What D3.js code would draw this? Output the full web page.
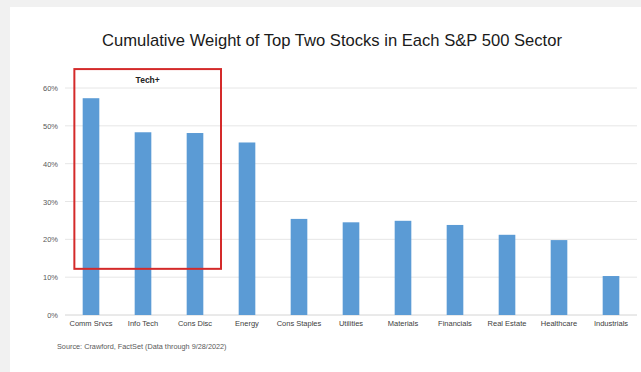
<!DOCTYPE html>
<html>
<head>
<meta charset="utf-8">
<script src="https://cdn.jsdelivr.net/npm/d3@7"></script>
<style>
  body { margin: 0; background: #f1f1f1; }
  svg { display: block; font-family: "Liberation Sans", Arial, sans-serif; }
</style>
</head>
<body>
<svg class="chart" width="641" height="372"></svg>
<script>
// data
const sectors = ["Comm Srvcs", "Info Tech", "Cons Disc", "Energy", "Cons Staples", "Utilities",
  "Materials", "Financials", "Real Estate", "Healthcare", "Industrials"];
const weights = [57.3, 48.3, 48.1, 45.6, 25.4, 24.5, 24.9, 23.8, 21.2, 19.8, 10.3];
const yTicks = [0, 10, 20, 30, 40, 50, 60];
const techGroup = ["Comm Srvcs", "Info Tech", "Cons Disc"];

const svg = d3.select(".chart");

// white panel
svg.append("rect")
  .attr("x", 10).attr("y", 7)
  .attr("width", 631).attr("height", 365)
  .attr("fill", "#fff");

svg.append("text")
  .attr("x", 332).attr("y", 46)
  .attr("text-anchor", "middle")
  .attr("font-size", 16.6)
  .attr("fill", "#1a1a1a")
  .text("Cumulative Weight of Top Two Stocks in Each S&P 500 Sector");

const x = d3.scaleBand().domain(sectors).range([65, 637]).paddingInner(0.68).paddingOuter(0.34);
const y = d3.scaleLinear().domain([0, 60]).range([315, 88]);

// grid
svg.append("g")
  .selectAll("line")
  .data(yTicks)
  .join("line")
  .attr("x1", 65).attr("x2", 637)
  .attr("y1", (d) => y(d)).attr("y2", (d) => y(d))
  .attr("stroke", (d) => (d === 0 ? "#d4d4d4" : "#e6e6e6"))
  .attr("stroke-width", 1);

svg.append("g")
  .selectAll("text")
  .data(yTicks)
  .join("text")
  .attr("x", 58).attr("y", (d) => y(d) + 3)
  .attr("text-anchor", "end")
  .attr("font-size", 7.5)
  .attr("fill", "#595959")
  .text((d) => d + "%");

// bars
svg.append("g")
  .selectAll("rect")
  .data(sectors)
  .join("rect")
  .attr("x", (d) => x(d))
  .attr("width", x.bandwidth())
  .attr("y", (d, i) => y(weights[i]))
  .attr("height", (d, i) => y(0) - y(weights[i]))
  .attr("fill", "#5b9bd5");

svg.append("g")
  .selectAll("text")
  .data(sectors)
  .join("text")
  .attr("x", (d) => x(d) + x.bandwidth() / 2)
  .attr("y", 326)
  .attr("text-anchor", "middle")
  .attr("font-size", 7.5)
  .attr("fill", "#404040")
  .text((d) => d);

// Tech+ box
const step = x.step();
const boxLeft = x(techGroup[0]) - step * 0.16;
const boxRight = x(techGroup[2]) + x.bandwidth() + step * 0.34;
svg.append("rect")
  .attr("x", boxLeft).attr("y", y(65))
  .attr("width", boxRight - boxLeft)
  .attr("height", y(12.2) - y(65))
  .attr("fill", "none")
  .attr("stroke", "#d42a2a")
  .attr("stroke-width", 2);

svg.append("text")
  .attr("x", (boxLeft + boxRight) / 2).attr("y", 83)
  .attr("text-anchor", "middle")
  .attr("font-size", 8.5)
  .attr("font-weight", "bold")
  .attr("fill", "#222")
  .text("Tech+");

svg.append("text")
  .attr("x", 57).attr("y", 349)
  .attr("font-size", 7.3)
  .attr("fill", "#595959")
  .text("Source: Crawford, FactSet (Data through 9/28/2022)");
</script>
</body>
</html>
